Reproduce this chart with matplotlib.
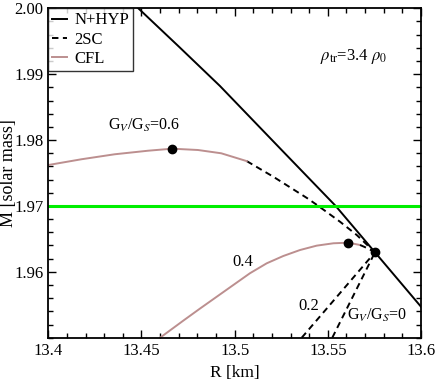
import matplotlib
matplotlib.use("Agg")
import matplotlib.pyplot as plt
from matplotlib.ticker import MultipleLocator

plt.rcParams['font.family'] = ['Liberation Serif', 'DejaVu Serif']
plt.rcParams['mathtext.fontset'] = 'stix'

# N+HYP branch
r_hyp = [13.4483, 13.47, 13.4921, 13.5252, 13.5542, 13.5753, 13.6]
m_hyp = [2.0, 1.99420, 1.98821, 1.97849, 1.970, 1.96296, 1.9547]

# CFL, Gv/Gs = 0.6
r_cfl06 = [13.40, 13.4177, 13.4356, 13.4535, 13.4665, 13.4803, 13.4928, 13.5065]
m_cfl06 = [1.97621, 1.97708, 1.97784, 1.97838, 1.97869, 1.97849, 1.97799, 1.97680]
# 2SC, Gv/Gs = 0.6
r_2sc06 = [13.5065, 13.5207, 13.5387, 13.5449, 13.5565, 13.5655, 13.5753]
m_2sc06 = [1.97680, 1.97444, 1.97122, 1.97000, 1.96761, 1.96559, 1.96296]

# CFL, Gv/Gs = 0.4
r_cfl04 = [13.46, 13.4724, 13.4813, 13.4904, 13.4993, 13.5082, 13.5172, 13.5261,
           13.5351, 13.5440, 13.5530, 13.561, 13.5673]
m_cfl04 = [1.95, 1.95258, 1.95440, 1.95622, 1.95800, 1.95978, 1.96129, 1.96240,
           1.96331, 1.96397, 1.96433, 1.96442, 1.96407]
# 2SC, Gv/Gs = 0.4
r_2sc04 = [13.5673, 13.5715, 13.5753]
m_2sc04 = [1.96407, 1.96355, 1.96296]

# 2SC, Gv/Gs = 0.2 and 0
r_2sc02 = [13.536, 13.5753]
m_2sc02 = [1.95, 1.96296]
r_2sc00 = [13.5524, 13.5753]
m_2sc00 = [1.95, 1.96296]

# maximum mass points
r_max = [13.4665, 13.561, 13.5753]
m_max = [1.97869, 1.96442, 1.96296]

m_obs = 1.97
cfl_color = '#bc8f8f'
dash = (0, (3.3, 2.3))

fig = plt.figure(figsize=(4.36, 3.82), dpi=100)
ax = fig.add_axes([0.1108, 0.116, 0.8548, 0.8623])

ax.plot(r_hyp, m_hyp, color='black', lw=1.4, label='N+HYP')
ax.plot(r_2sc06, m_2sc06, color='black', lw=1.4, ls=dash, label='2SC')
ax.plot(r_cfl06, m_cfl06, color=cfl_color, lw=1.4, label='CFL')
ax.plot(r_cfl04, m_cfl04, color=cfl_color, lw=1.4)
ax.plot(r_2sc04, m_2sc04, color='black', lw=1.4, ls=dash)
ax.plot(r_2sc02, m_2sc02, color='black', lw=1.4, ls=dash)
ax.plot(r_2sc00, m_2sc00, color='black', lw=1.4, ls=dash)
ax.axhline(m_obs, color='#00ee00', lw=2.2)
ax.plot(r_max, m_max, 'o', color='black', ms=6, zorder=5)

ax.text(13.4514, 1.98229, r'G$_V$/G$_S$=0.6', fontsize=11.5, ha='center', va='center')
ax.text(13.5046, 1.96145, '0.4', fontsize=12, ha='center', va='center')
ax.text(13.5399, 1.95481, '0.2', fontsize=12, ha='center', va='center')
ax.text(13.5762, 1.95345, r'G$_V$/G$_S$=0', fontsize=11.5, ha='center', va='center')
ax.text(13.5637, 1.99265, r'$\rho_{\rm tr}$=3.4 $\rho_0$', fontsize=12, ha='center', va='center')

ax.set_xlim(13.4, 13.6)
ax.set_ylim(1.95, 2.0)
ax.xaxis.set_minor_locator(MultipleLocator(0.01))
ax.yaxis.set_minor_locator(MultipleLocator(0.002))
ax.set_xticks([13.4, 13.45, 13.5, 13.55, 13.6])
ax.set_xticklabels(['13.4', '13.45', '13.5', '13.55', '13.6'])
ax.set_yticks([1.96, 1.97, 1.98, 1.99, 2.0])
ax.set_yticklabels(['1.96', '1.97', '1.98', '1.99', '2.00'])
ax.tick_params(which='both', direction='in', top=True, right=True, labelsize=12)
ax.tick_params(which='major', length=6, width=1)
ax.tick_params(which='minor', length=3.5, width=1)
for sp in ax.spines.values():
    sp.set_linewidth(1.3)

ax.set_xlabel('R [km]', fontsize=12.5)
ax.xaxis.set_label_coords(0.5, -0.107)
ax.xaxis.label.set_va('center')
ax.set_ylabel('M [solar mass]', fontsize=13)
ax.yaxis.set_label_coords(-0.107, 0.5)
ax.yaxis.label.set_va('center')

leg = ax.legend(loc='upper left', fontsize=12, frameon=True, fancybox=False,
                borderaxespad=0, handlelength=0.9, handletextpad=0.4,
                labelspacing=0.2, borderpad=0.25)
leg.get_frame().set_edgecolor('black')
leg.get_frame().set_linewidth(1.0)

fig.savefig('out.png', dpi=100)
